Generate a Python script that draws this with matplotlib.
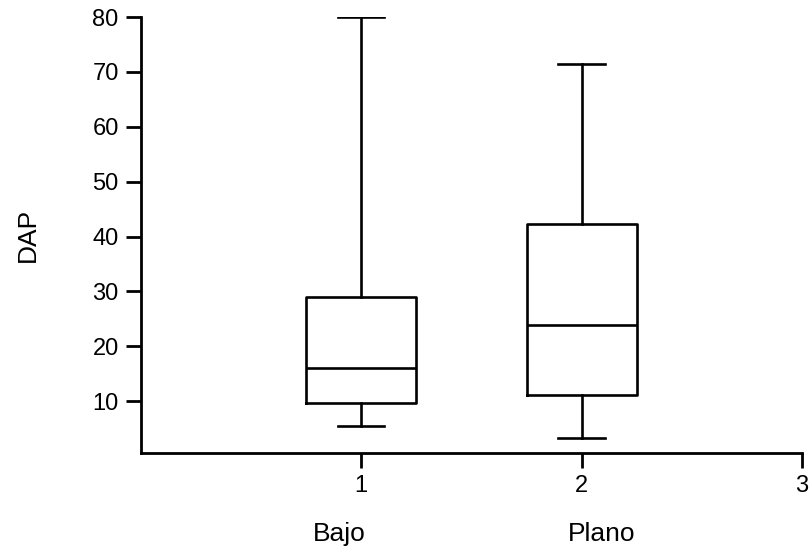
import matplotlib
matplotlib.use("Agg")
import matplotlib.pyplot as plt

plt.rcParams['font.family'] = ['Liberation Sans', 'DejaVu Sans']

groups = ["Bajo", "Plano"]
positions = [1, 2]
whislo = [5.5, 3.3]
q1 = [9.7, 11.1]
med = [16.1, 23.9]
q3 = [29.0, 42.3]
whishi = [80.0, 71.5]

stats = []
for i in range(len(groups)):
    stats.append({"label": groups[i], "whislo": whislo[i], "q1": q1[i],
                  "med": med[i], "q3": q3[i], "whishi": whishi[i], "fliers": []})

fig = plt.figure(figsize=(8.1, 5.52), dpi=100)
ax = fig.add_axes([0.174, 0.179, 0.816, 0.79])

lw = 1.9
ax.bxp(stats, positions=positions, widths=0.5, capwidths=0.21,
       showfliers=False, manage_ticks=False,
       boxprops=dict(color="black", linewidth=lw),
       medianprops=dict(color="black", linewidth=lw),
       whiskerprops=dict(color="black", linewidth=lw),
       capprops=dict(color="black", linewidth=lw))

ax.set_xlim(0, 3)
ax.set_ylim(0.5, 80)
ax.set_xticks([1, 2, 3])
ax.set_yticks([10, 20, 30, 40, 50, 60, 70, 80])
ax.spines['top'].set_visible(False)
ax.spines['right'].set_visible(False)
ax.spines['left'].set_linewidth(2.0)
ax.spines['bottom'].set_linewidth(2.0)
ax.tick_params(axis='both', length=11, width=2.0, labelsize=17, pad=5)

ax.set_ylabel("DAP", fontsize=19, labelpad=38)

label_x = [0.9, 2.09]
for x, g in zip(label_x, groups):
    ax.text(x, -0.185, g, transform=ax.get_xaxis_transform(),
            ha='center', va='center', fontsize=19)

fig.savefig("out.png", dpi=100)
